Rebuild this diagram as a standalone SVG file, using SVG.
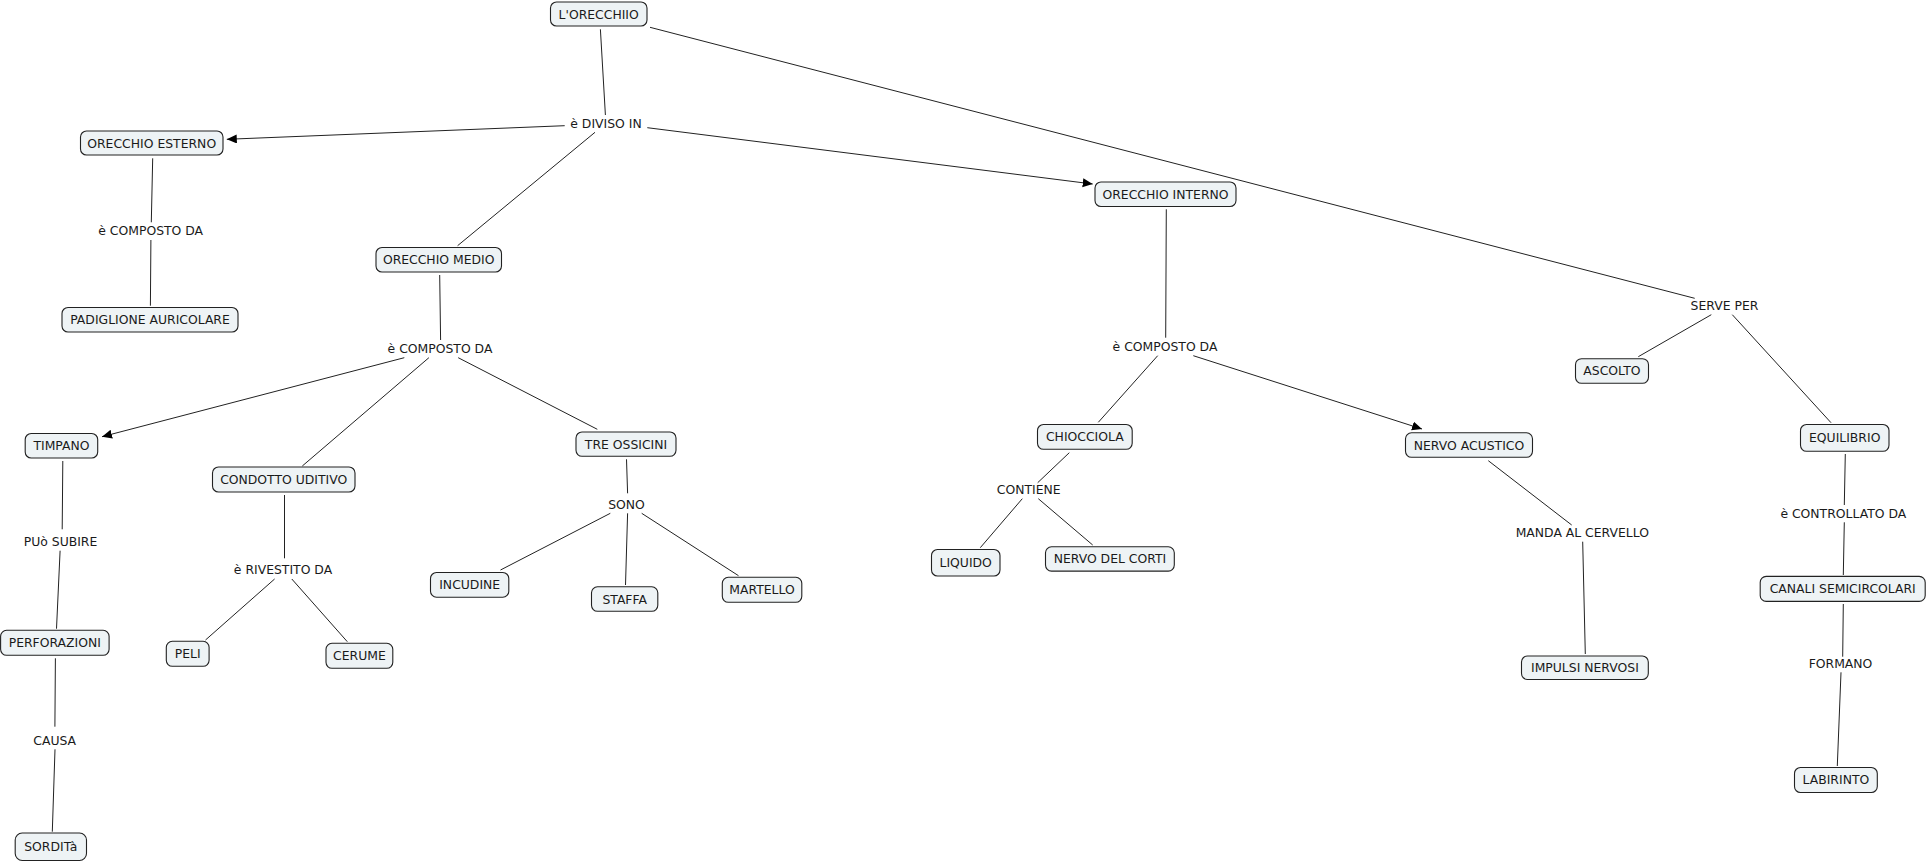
<svg xmlns="http://www.w3.org/2000/svg" width="1928" height="862" viewBox="0 0 1928 862">
<style>
.n rect{fill:#eef3f5;stroke:#222;stroke-width:1.1}
text{font-family:"DejaVu Sans","Liberation Sans",sans-serif;font-size:12.4px;fill:#1a1a1a;text-anchor:middle}
.c line{stroke:#222;stroke-width:1}
.a{marker-end:url(#ah)}
</style>
<defs>
<marker id="ah" markerUnits="userSpaceOnUse" markerWidth="11" markerHeight="10" refX="10" refY="4.5" orient="auto" viewBox="0 0 11 10">
<path d="M0,0 L10,4.5 L0,9 z" fill="#000"/>
</marker>
</defs>
<rect width="1928" height="862" fill="#fff"/>
<g id="connectors" class="c">
<line x1="600.4" y1="29.3" x2="605.4" y2="115"/>
<line class="a" x1="564.7" y1="125.7" x2="226.8" y2="139.3"/>
<line x1="595" y1="132.3" x2="457.6" y2="245.7"/>
<line class="a" x1="647.3" y1="127.7" x2="1092.7" y2="184"/>
<line x1="650" y1="27.3" x2="1694.7" y2="298.3"/>
<line x1="152.7" y1="158.3" x2="151.3" y2="222.3"/>
<line x1="150.9" y1="240" x2="150.4" y2="305.7"/>
<line x1="439.7" y1="275" x2="440.6" y2="340"/>
<line class="a" x1="404.3" y1="357.7" x2="102" y2="436.7"/>
<line x1="428.9" y1="357.7" x2="302.3" y2="466"/>
<line x1="458.2" y1="357.7" x2="597.3" y2="429.3"/>
<line x1="62.8" y1="461" x2="62.2" y2="529.3"/>
<line x1="60.1" y1="550.7" x2="56.5" y2="628.7"/>
<line x1="55.4" y1="658.3" x2="54.9" y2="726.7"/>
<line x1="55" y1="749.3" x2="52.3" y2="831.7"/>
<line x1="284.5" y1="495" x2="284.5" y2="558.3"/>
<line x1="274.6" y1="579" x2="205.5" y2="640"/>
<line x1="291.8" y1="579" x2="347.3" y2="641.7"/>
<line x1="626.5" y1="459.3" x2="627.6" y2="493.3"/>
<line x1="610.3" y1="513.3" x2="500.5" y2="570"/>
<line x1="627.6" y1="513.3" x2="625.5" y2="585"/>
<line x1="641.7" y1="513.3" x2="738.5" y2="575.7"/>
<line x1="1166.3" y1="209.3" x2="1165.7" y2="337.7"/>
<line x1="1157.7" y1="355.7" x2="1098.3" y2="422.3"/>
<line class="a" x1="1193.3" y1="355.7" x2="1422" y2="429"/>
<line x1="1069.3" y1="452.7" x2="1037.7" y2="482.7"/>
<line x1="1022.3" y1="498.7" x2="980.3" y2="547.7"/>
<line x1="1038.3" y1="498.7" x2="1092.7" y2="545"/>
<line x1="1711.3" y1="314.7" x2="1638.3" y2="356.7"/>
<line x1="1732.3" y1="314.7" x2="1831" y2="422.7"/>
<line x1="1488.3" y1="460.7" x2="1571.7" y2="525"/>
<line x1="1582.7" y1="541.7" x2="1585.3" y2="654"/>
<line x1="1845.3" y1="454" x2="1844.3" y2="505"/>
<line x1="1844.3" y1="522.3" x2="1843.3" y2="575"/>
<line x1="1843.3" y1="604" x2="1842.7" y2="656.7"/>
<line x1="1841" y1="672.3" x2="1837.3" y2="766"/>
</g>
<g id="labels">
<text x="606" y="128.3">è DIVISO IN</text>
<text x="150.7" y="235.3">è COMPOSTO DA</text>
<text x="440" y="353.3">è COMPOSTO DA</text>
<text x="1165" y="351.3">è COMPOSTO DA</text>
<text x="1724.5" y="309.6">SERVE PER</text>
<text x="60.5" y="546">PUò SUBIRE</text>
<text x="54.7" y="745">CAUSA</text>
<text x="283" y="574.3">è RIVESTITO DA</text>
<text x="626.5" y="509">SONO</text>
<text x="1028.7" y="493.6">CONTIENE</text>
<text x="1582.3" y="537">MANDA AL CERVELLO</text>
<text x="1843.3" y="518">è CONTROLLATO DA</text>
<text x="1840.5" y="667.8">FORMANO</text>
</g>
<g id="n-orecchio" class="n"><rect x="550.5" y="2" width="96.5" height="24" rx="6"/><text x="598.7" y="18.5">L'ORECCHIIO</text></g>
<g id="n-esterno" class="n"><rect x="80.5" y="131" width="142.5" height="24" rx="6"/><text x="151.7" y="147.5">ORECCHIO ESTERNO</text></g>
<g id="n-padiglione" class="n"><rect x="62" y="307.5" width="176" height="24.5" rx="6"/><text x="150" y="324.2">PADIGLIONE AURICOLARE</text></g>
<g id="n-medio" class="n"><rect x="376" y="247.5" width="125.5" height="24.5" rx="6"/><text x="438.7" y="264.2">ORECCHIO MEDIO</text></g>
<g id="n-interno" class="n"><rect x="1095" y="182" width="141" height="24.5" rx="6"/><text x="1165.5" y="198.7">ORECCHIO INTERNO</text></g>
<g id="n-timpano" class="n"><rect x="25.2" y="433.5" width="72.5" height="24.5" rx="6"/><text x="61.5" y="450.2">TIMPANO</text></g>
<g id="n-condotto" class="n"><rect x="212.5" y="467" width="142.5" height="25" rx="6"/><text x="283.7" y="484">CONDOTTO UDITIVO</text></g>
<g id="n-ossicini" class="n"><rect x="576" y="432" width="100" height="24.3" rx="6"/><text x="626" y="448.5">TRE OSSICINI</text></g>
<g id="n-incudine" class="n"><rect x="430.5" y="572.5" width="78.3" height="24.7" rx="6"/><text x="469.7" y="589.2">INCUDINE</text></g>
<g id="n-staffa" class="n"><rect x="591.5" y="586.8" width="66.3" height="24.5" rx="6"/><text x="624.7" y="603.5">STAFFA</text></g>
<g id="n-martello" class="n"><rect x="722.3" y="577.3" width="79.5" height="25" rx="6"/><text x="762" y="594.2">MARTELLO</text></g>
<g id="n-perforazioni" class="n"><rect x="0.6" y="630.3" width="108.5" height="25" rx="6"/><text x="54.8" y="647.2">PERFORAZIONI</text></g>
<g id="n-peli" class="n"><rect x="166.3" y="641.3" width="42.8" height="25" rx="6"/><text x="187.7" y="658.2">PELI</text></g>
<g id="n-cerume" class="n"><rect x="326" y="643.3" width="66.8" height="25" rx="6"/><text x="359.4" y="660.2">CERUME</text></g>
<g id="n-sordita" class="n"><rect x="15.2" y="833" width="71.3" height="27.5" rx="7"/><text x="50.8" y="851.2">SORDITà</text></g>
<g id="n-chiocciola" class="n"><rect x="1037.5" y="424.5" width="94.7" height="24.8" rx="6"/><text x="1084.8" y="441.2">CHIOCCIOLA</text></g>
<g id="n-nervoacustico" class="n"><rect x="1405.5" y="432.8" width="127" height="24.5" rx="6"/><text x="1469" y="449.5">NERVO ACUSTICO</text></g>
<g id="n-liquido" class="n"><rect x="931.5" y="549.5" width="68.5" height="26.5" rx="6"/><text x="965.7" y="566.9">LIQUIDO</text></g>
<g id="n-corti" class="n"><rect x="1045.5" y="546.8" width="128.8" height="24.3" rx="6"/><text x="1109.9" y="563.2">NERVO DEL CORTI</text></g>
<g id="n-ascolto" class="n"><rect x="1575.5" y="358.7" width="73" height="24.6" rx="6"/><text x="1612" y="375.2">ASCOLTO</text></g>
<g id="n-equilibrio" class="n"><rect x="1800.5" y="424.5" width="88.5" height="26.8" rx="6"/><text x="1844.7" y="442.2">EQUILIBRIO</text></g>
<g id="n-impulsi" class="n"><rect x="1521.5" y="656" width="126.8" height="23.5" rx="6"/><text x="1584.9" y="672.2">IMPULSI NERVOSI</text></g>
<g id="n-canali" class="n"><rect x="1760.2" y="576.4" width="165" height="25" rx="6"/><text x="1842.7" y="593.2">CANALI SEMICIRCOLARI</text></g>
<g id="n-labirinto" class="n"><rect x="1794.5" y="767.5" width="82.8" height="25" rx="6"/><text x="1835.9" y="784.4">LABIRINTO</text></g>
</svg>
